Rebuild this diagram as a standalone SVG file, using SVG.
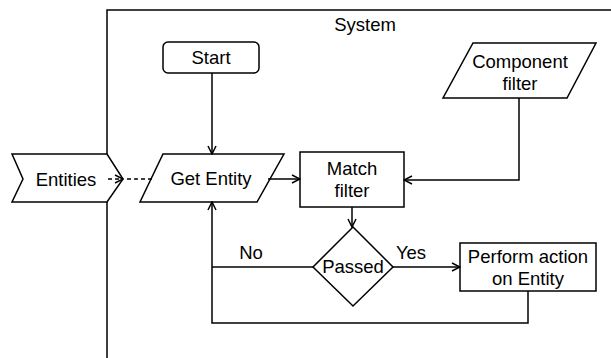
<svg xmlns="http://www.w3.org/2000/svg" width="611" height="358" viewBox="0 0 611 358">
<defs>
<marker id="arr" markerWidth="10" markerHeight="10" refX="9" refY="5" orient="auto" markerUnits="userSpaceOnUse">
<path d="M1,1 L9,5 L1,9" fill="none" stroke="#000" stroke-width="1.5"/>
</marker>
<style>
.s{fill:#fff;stroke:#000;stroke-width:1.5}
.c{fill:none;stroke:#000;stroke-width:1.5}
.d{stroke-dasharray:4 3}
text{font-family:"Liberation Sans",Arial,sans-serif;font-size:18.5px;fill:#000;text-anchor:middle;dominant-baseline:central}
</style>
</defs>
<rect width="611" height="358" fill="#fff"/>
<g id="system">
<path class="c" d="M611,10 H107 V358"/>
<text x="365" y="24">System</text>
</g>
<g id="entities">
<polygon class="s" points="12,154 107,154 123,179 107,202 12,202 23,179"/>
<text x="66" y="179">Entities</text>
</g>
<g id="start">
<rect class="s" x="163" y="42" width="96" height="31" rx="5"/>
<text x="211" y="57">Start</text>
</g>
<g id="get-entity">
<polygon class="s" points="163,154 284,154 257,202 140,202"/>
<text x="211" y="178">Get Entity</text>
</g>
<g id="component-filter">
<polygon class="s" points="473,43 596,43 567,98 443,98"/>
<text x="520" y="61">Component</text>
<text x="520" y="83">filter</text>
</g>
<g id="match-filter">
<rect class="s" x="300" y="152" width="104" height="55"/>
<text x="352" y="168">Match</text>
<text x="352" y="190">filter</text>
</g>
<g id="passed">
<polygon class="s" points="353,227 393,267 353,306 313,267"/>
<text x="353" y="266">Passed</text>
</g>
<g id="perform-action">
<rect class="s" x="460" y="243" width="136" height="48"/>
<text x="528" y="256">Perform action</text>
<text x="528" y="278">on Entity</text>
</g>
<g id="connectors">
<path class="c" d="M212,73 V154" marker-end="url(#arr)"/>
<path class="c d" d="M108,179 H123" marker-end="url(#arr)"/>
<path class="c d" d="M127,179 H155"/>
<path class="c" d="M268,179 H300" marker-end="url(#arr)"/>
<path class="c" d="M519,98 V180 H404" marker-end="url(#arr)"/>
<path class="c" d="M352,207 V227" marker-end="url(#arr)"/>
<path class="c" d="M393,267 H460" marker-end="url(#arr)"/>
<path class="c" d="M313,267 H212"/>
<path class="c" d="M528,291 V323 H212 V202" marker-end="url(#arr)"/>
<text x="251" y="252">No</text>
<text x="411" y="252">Yes</text>
</g>
</svg>
